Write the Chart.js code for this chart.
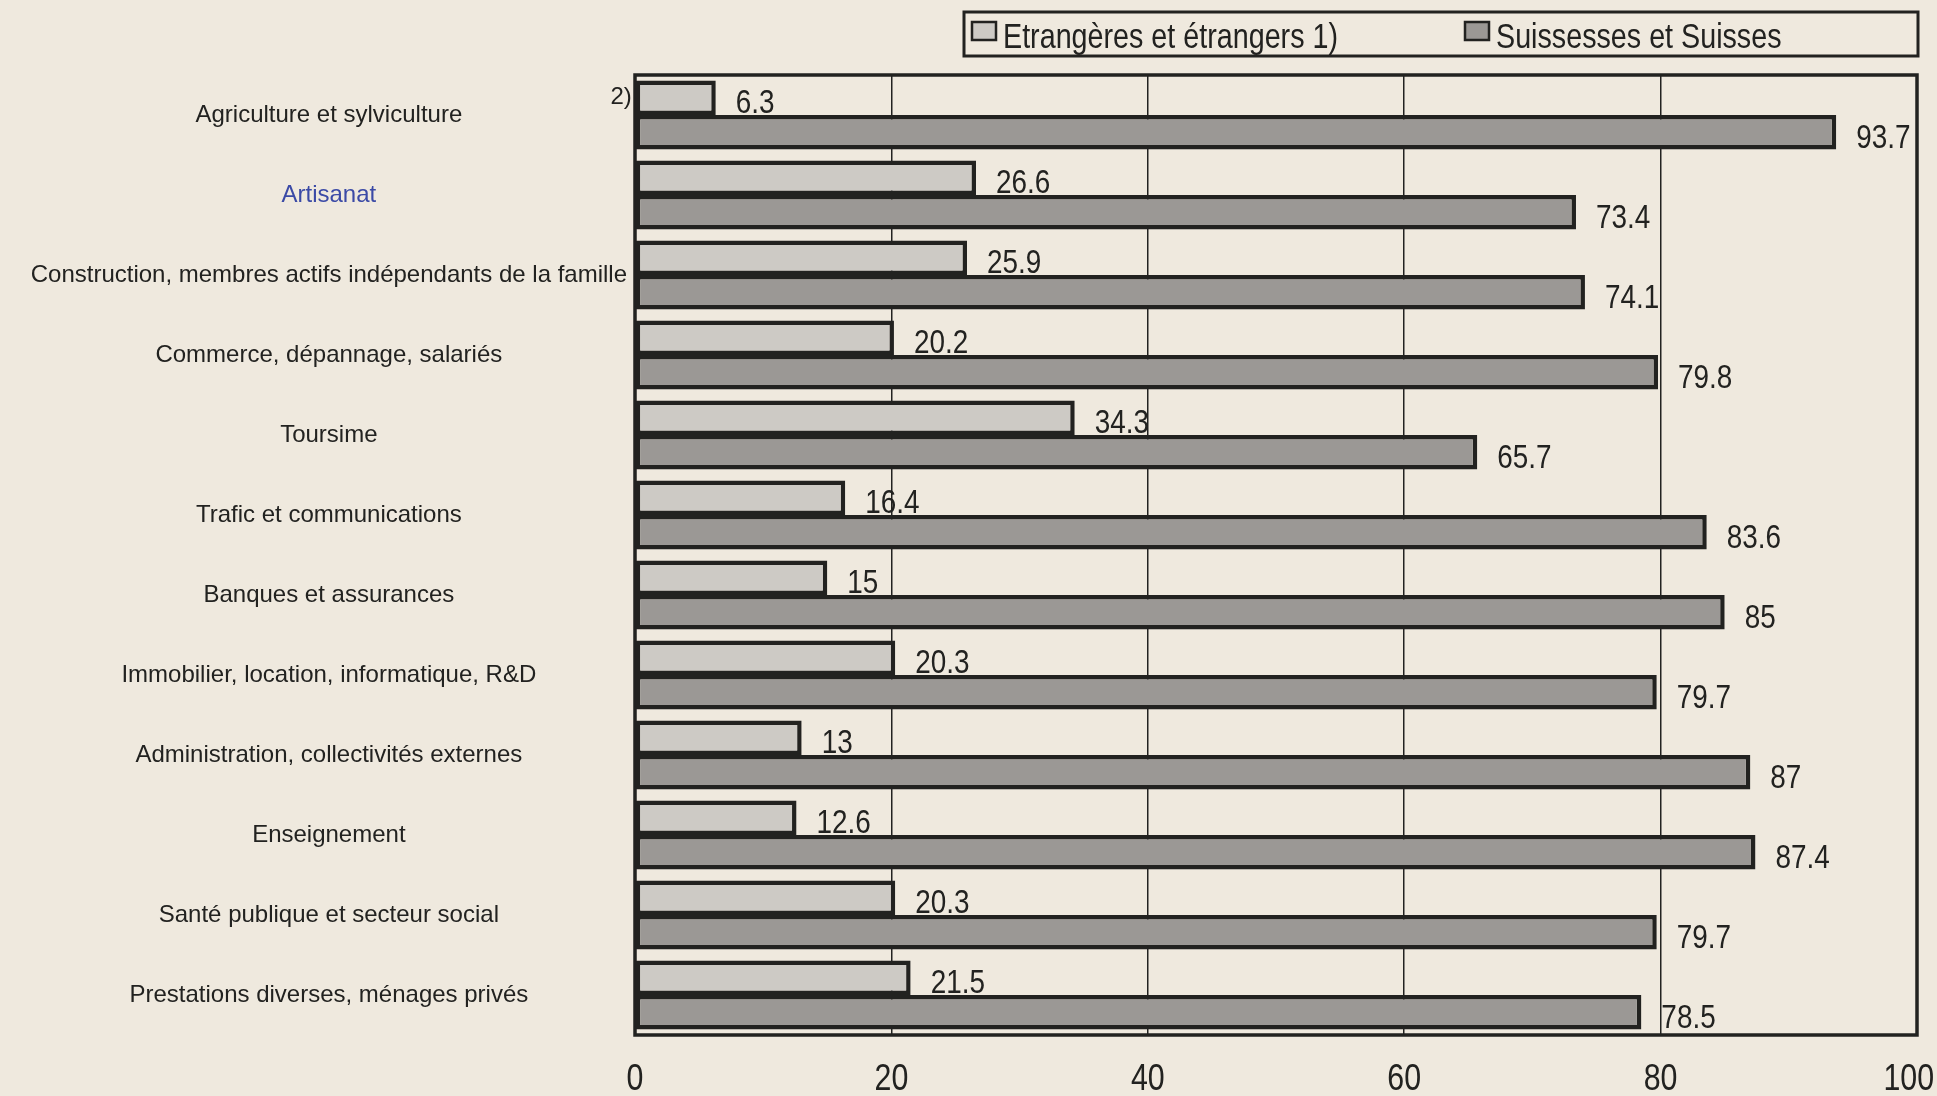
<!DOCTYPE html>
<html lang="fr">
<head>
<meta charset="utf-8">
<title>Etrangers et Suisses par branche</title>
<script src="https://cdn.jsdelivr.net/npm/chart.js@4.4.1/dist/chart.umd.min.js"></script>
<style>
  html, body { margin: 0; padding: 0; background: #efe9de; }
  #wrap { width: 1937px; height: 1096px; position: relative; }
</style>
</head>
<body>
<div id="wrap"><canvas id="branchChart"></canvas></div>
<script>
// --- Data ---
const branches = [
    'Agriculture et sylviculture',
    'Artisanat',
    'Construction, membres actifs indépendants de la famille',
    'Commerce, dépannage, salariés',
    'Toursime',
    'Trafic et communications',
    'Banques et assurances',
    'Immobilier, location, informatique, R&D',
    'Administration, collectivités externes',
    'Enseignement',
    'Santé publique et secteur social',
    'Prestations diverses, ménages privés'
];
const foreigners = [6.3, 26.6, 25.9, 20.2, 34.3, 16.4, 15, 20.3, 13, 12.6, 20.3, 21.5];
const swiss = [93.7, 73.4, 74.1, 79.8, 65.7, 83.6, 85, 79.7, 87, 87.4, 79.7, 78.5];
const seriesNames = ['Etrangères et étrangers 1)', 'Suissesses et Suisses'];
const xTicks = [0, 20, 40, 60, 80, 100];
const footnoteMark = '2)';

// --- Look ---
const INK = '#222220';
const PAPER = '#efe9de';
const LIGHT = '#cdcac5';
const DARK = '#9b9895';
const REGULAR = '"Liberation Sans", Arial, sans-serif';
const NARROW_SCALE = 0.82; // the printed figures use a condensed face

// text squeezed horizontally to imitate the condensed print face
function narrowText(ctx, text, x, y, align) {
    ctx.save();
    ctx.translate(x, y);
    ctx.scale(NARROW_SCALE, 1);
    ctx.textAlign = align;
    ctx.fillText(text, 0, 0);
    ctx.restore();
}

// paper background + plot frame
const framePlugin = {
    id: 'frame',
    beforeDraw(chart) {
        const ctx = chart.ctx;
        ctx.save();
        ctx.fillStyle = PAPER;
        ctx.fillRect(0, 0, chart.width, chart.height);
        ctx.restore();
    },
    beforeDatasetsDraw(chart) {
        const { ctx, chartArea: a } = chart;
        ctx.save();
        ctx.strokeStyle = INK;
        ctx.lineWidth = 3.5;
        ctx.strokeRect(a.left, a.top, a.right - a.left, a.bottom - a.top);
        ctx.restore();
    }
};

// values next to the bar ends, the "2)" mark and the x tick labels
const valueLabels = {
    id: 'valueLabels',
    afterDatasetsDraw(chart) {
        const ctx = chart.ctx;
        ctx.save();
        ctx.fillStyle = INK;
        ctx.font = '34px ' + REGULAR;
        ctx.textBaseline = 'middle';
        chart.data.datasets.forEach((ds, i) => {
            chart.getDatasetMeta(i).data.forEach((bar, j) => {
                narrowText(ctx, String(ds.data[j]), bar.x + 20, bar.y + 6, 'left');
            });
        });
        const first = chart.getDatasetMeta(0).data[0];
        ctx.font = '24px ' + REGULAR;
        ctx.textAlign = 'right';
        ctx.fillText(footnoteMark, first.base - 4, first.y);

        // tick labels, kept inside the canvas at the right edge
        const xs = chart.scales.x;
        ctx.font = '37px ' + REGULAR;
        xs.ticks.forEach(t => {
            const label = String(t.value);
            const half = ctx.measureText(label).width * NARROW_SCALE / 2;
            const x = Math.min(xs.getPixelForValue(t.value), chart.width - half - 3);
            narrowText(ctx, label, x, chart.chartArea.bottom + 45, 'center');
        });
        ctx.restore();
    }
};

// boxed legend above the plot
const boxLegend = {
    id: 'boxLegend',
    afterDraw(chart) {
        const ctx = chart.ctx;
        const right = chart.width - 19, left = right - 954, top = 12, bottom = 56;
        ctx.save();
        ctx.strokeStyle = INK;
        ctx.lineWidth = 3;
        ctx.strokeRect(left, top, right - left, bottom - top);
        const itemX = [left + 8, left + 501];
        ctx.font = '35px ' + REGULAR;
        ctx.textBaseline = 'middle';
        chart.data.datasets.forEach((ds, i) => {
            const x = itemX[i];
            ctx.fillStyle = ds.backgroundColor;
            ctx.fillRect(x, 22, 24, 18);
            ctx.lineWidth = 2.5;
            ctx.strokeRect(x, 22, 24, 18);
            ctx.fillStyle = INK;
            narrowText(ctx, ds.label, x + 31, 38, 'left');
        });
        ctx.restore();
    }
};

const chart = new Chart(document.getElementById('branchChart'), {
    type: 'bar',
    data: {
        labels: branches,
        datasets: [
            {
                label: seriesNames[0],
                data: foreigners,
                backgroundColor: LIGHT,
                borderColor: INK,
                borderWidth: 4.5,
                borderSkipped: false
            },
            {
                label: seriesNames[1],
                data: swiss,
                backgroundColor: DARK,
                borderColor: INK,
                borderWidth: 4.5,
                borderSkipped: false
            }
        ]
    },
    options: {
        indexAxis: 'y',
        responsive: true,
        maintainAspectRatio: false,
        animation: false,
        categoryPercentage: 0.86,
        barPercentage: 1.0,
        layout: { padding: { top: 75, right: 20, bottom: 0, left: 0 } },
        plugins: {
            legend: { display: false },
            tooltip: { enabled: false }
        },
        scales: {
            x: {
                min: 0,
                max: 100,
                afterBuildTicks: scale => { scale.ticks = xTicks.map(v => ({ value: v })); },
                afterFit: scale => { scale.height = 61; },
                grid: { color: INK, lineWidth: 1.5, drawTicks: false },
                border: { display: false },
                ticks: { display: false }
            },
            y: {
                afterFit: scale => { scale.width = 635; },
                grid: { display: false, drawTicks: false },
                border: { display: false },
                ticks: {
                    crossAlign: 'center',
                    padding: 8,
                    autoSkip: false,
                    font: { family: REGULAR, size: 24 },
                    color: ctx => ctx.index === 1 ? '#3b4aa6' : INK
                }
            }
        }
    },
    plugins: [framePlugin, valueLabels, boxLegend]
});
</script>
</body>
</html>
